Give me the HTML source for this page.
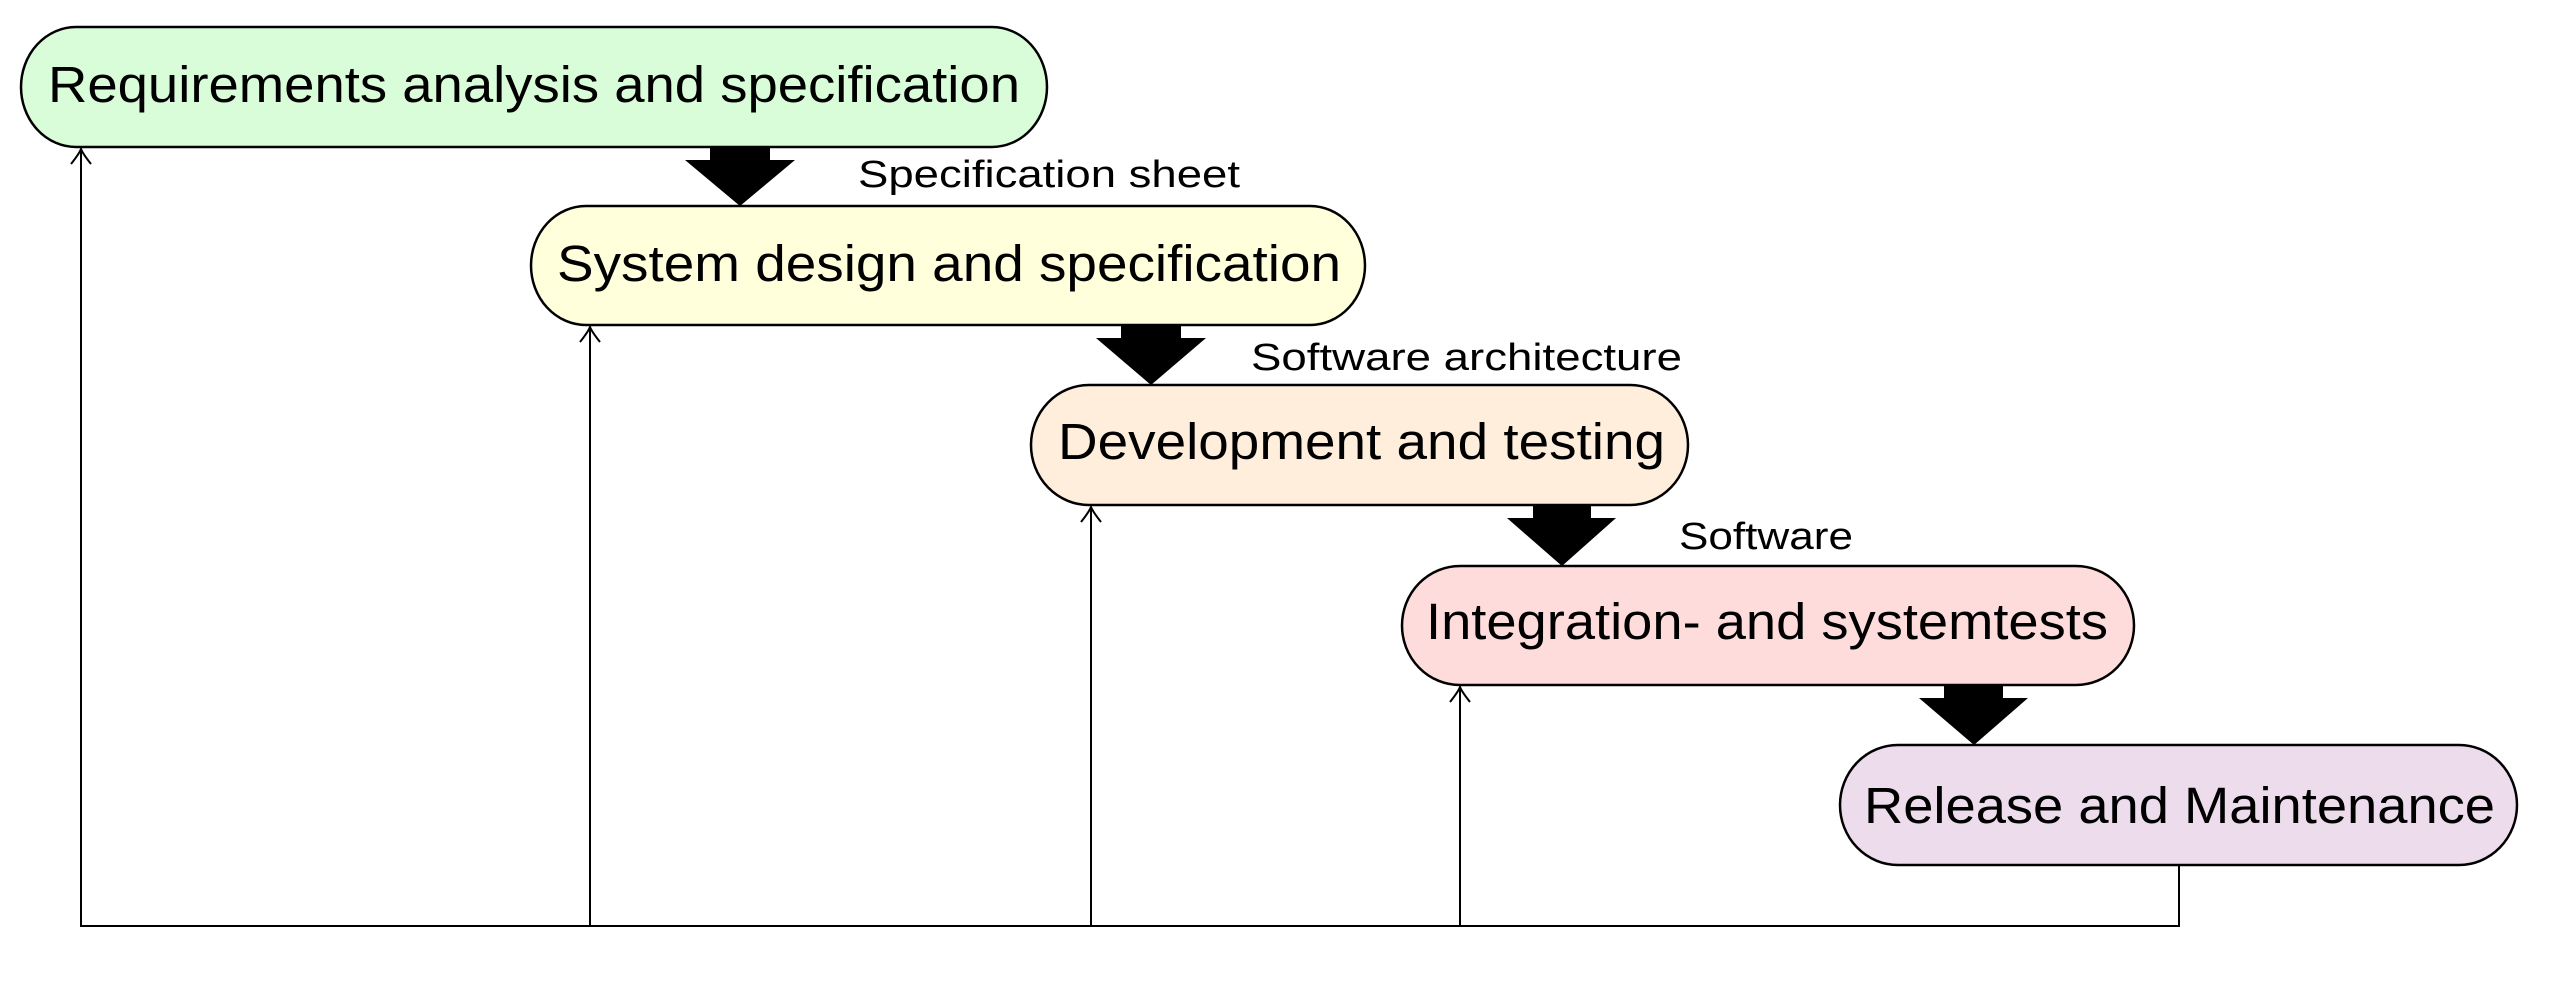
<!DOCTYPE html>
<html><head><style>html,body{margin:0;padding:0;background:#fff;}svg{display:block}</style></head>
<body>
<svg width="2557" height="981" viewBox="0 0 2557 981" xmlns="http://www.w3.org/2000/svg" font-family="Liberation Sans, Arial, sans-serif">
<g stroke="#000" stroke-width="2.5">
<rect x="21" y="27" width="1026" height="120" rx="55" ry="60" fill="#d9fcd9"/>
<rect x="531" y="206" width="834" height="119" rx="55" ry="60" fill="#ffffdc"/>
<rect x="1031" y="385" width="657" height="120" rx="58" ry="60" fill="#ffeedc"/>
<rect x="1402" y="566" width="732" height="119" rx="58" ry="60" fill="#ffdcdc"/>
<rect x="1840" y="745" width="677" height="120" rx="58" ry="60" fill="#ecdcec"/>
</g>
<g stroke="#000" stroke-width="2" fill="none">
<path d="M2179 865 V926 H81 V149"/>
<path d="M590 926 V327"/>
<path d="M1091 926 V507"/>
<path d="M1460 926 V687"/>
<path d="M71 164 Q79 154 81 149 Q83 154 91 164"/>
<path d="M580 342 Q588 332 590 327 Q592 332 600 342"/>
<path d="M1081 522 Q1089 512 1091 507 Q1093 512 1101 522"/>
<path d="M1450 702 Q1458 692 1460 687 Q1462 692 1470 702"/>
</g>
<g fill="#000">
<path d="M710 147 H770 V160 H795 L740 206 L685 160 H710 Z"/>
<path d="M1121 325 H1181 V338 H1206 L1151 385 L1096 338 H1121 Z"/>
<path d="M1533 505 H1591 V518 H1616 L1562 566 L1507 518 H1533 Z"/>
<path d="M1944 685 H2003 V698 H2028 L1974 745 L1919 698 H1944 Z"/>
</g>
<g font-size="51" fill="#000">
<text x="48" y="102" textLength="972" lengthAdjust="spacingAndGlyphs">Requirements analysis and specification</text>
<text x="557" y="281" textLength="784" lengthAdjust="spacingAndGlyphs">System design and specification</text>
<text x="1058" y="459" textLength="607" lengthAdjust="spacingAndGlyphs">Development and testing</text>
<text x="1426" y="639" textLength="682" lengthAdjust="spacingAndGlyphs">Integration- and systemtests</text>
<text x="1864" y="823" textLength="631" lengthAdjust="spacingAndGlyphs">Release and Maintenance</text>
</g>
<g font-size="38" fill="#000">
<text x="858" y="187" textLength="382" lengthAdjust="spacingAndGlyphs">Specification sheet</text>
<text x="1251" y="370" textLength="431" lengthAdjust="spacingAndGlyphs">Software architecture</text>
<text x="1679" y="549" textLength="174" lengthAdjust="spacingAndGlyphs">Software</text>
</g>
</svg>
</body></html>
